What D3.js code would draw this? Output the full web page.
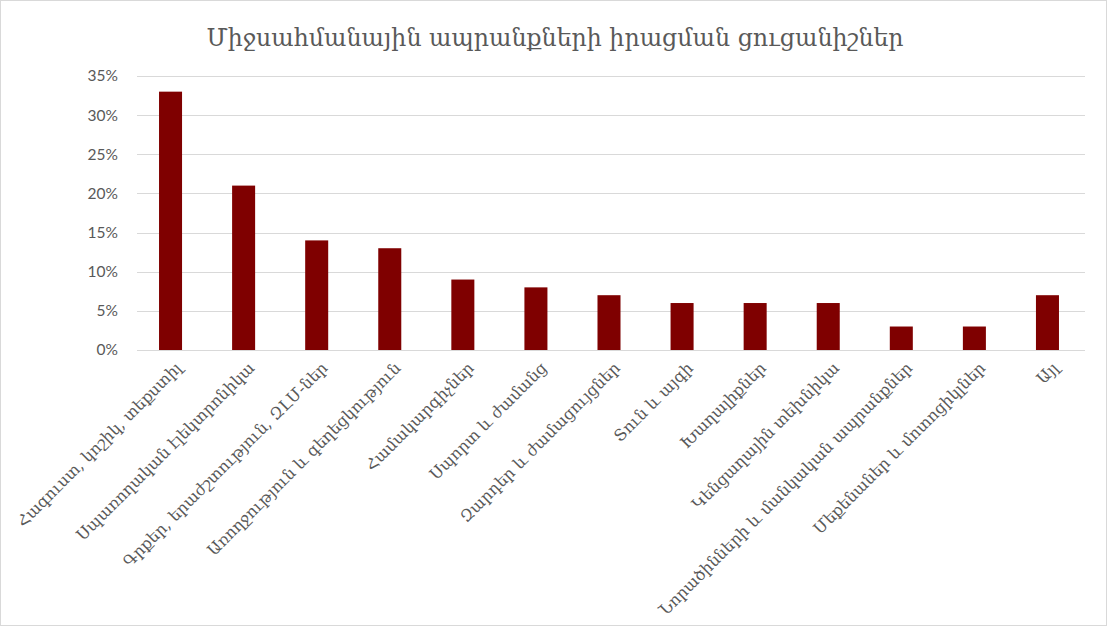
<!DOCTYPE html>
<html>
<head>
<meta charset="utf-8">
<script src="https://cdn.jsdelivr.net/npm/d3@7"></script>
<style>
  html, body { margin: 0; padding: 0; background: #ffffff; }
  svg { display: block; }
</style>
</head>
<body>
<svg id="chart" width="1108" height="629"></svg>
<script>
const title = "Միջսահմանային ապրանքների իրացման ցուցանիշներ";
const categories = [
  "Հագուստ, կոշիկ, տեքստիլ",
  "Սպառողական էլեկտրոնիկա",
  "Գրքեր, երաժշտություն, ԶԼՄ-ներ",
  "Առողջություն և գեղեցկություն",
  "Համակարգիչներ",
  "Սպորտ և ժամանց",
  "Զարդեր և ժամացույցներ",
  "Տուն և այգի",
  "Խաղալիքներ",
  "Կենցաղային տեխնիկա",
  "Նորածինների և մանկական ապրանքներ",
  "Մեքենաներ և մոտոցիկլներ",
  "Այլ"
];
const values = [0.33, 0.21, 0.14, 0.13, 0.09, 0.08, 0.07, 0.06, 0.06, 0.06, 0.03, 0.03, 0.07];
const yTicks = [0, 0.05, 0.10, 0.15, 0.20, 0.25, 0.30, 0.35];

const svg = d3.select("#chart");
const W = 1108, H = 629;

// frame
svg.append("rect").attr("x", 0).attr("y", 0).attr("width", W).attr("height", H).attr("fill", "#ffffff");
svg.append("rect").attr("x", 0.5).attr("y", 0.5).attr("width", W - 2).attr("height", H - 4)
  .attr("fill", "none").attr("stroke", "#d9d9d9");

const plot = { left: 134, right: 1084, top: 76, bottom: 350 };

const x = d3.scaleBand().domain(categories).range([plot.left, plot.right]).paddingInner(0.685).paddingOuter(0.3425);
const y = d3.scaleLinear().domain([0, 0.35]).range([plot.bottom, plot.top]);

// gridlines
svg.append("g").selectAll("line").data(yTicks).join("line")
  .attr("x1", 137).attr("x2", 1085)
  .attr("y1", d => Math.round(y(d)) + 0.5).attr("y2", d => Math.round(y(d)) + 0.5)
  .attr("stroke", "#d9d9d9").attr("stroke-width", 1);

// y axis labels
const yAxis = d3.axisLeft(y).tickValues(yTicks).tickFormat(d3.format(".0%")).tickSize(0).tickPadding(0);
const yg = svg.append("g").attr("transform", "translate(118,0)").call(yAxis);
yg.select(".domain").remove();
yg.selectAll("text").attr("font-family", "Lato, 'Open Sans', sans-serif").attr("font-size", 15.5)
  .attr("fill", "#595959");

// bars
svg.append("g").selectAll("rect").data(values).join("rect")
  .attr("x", (d, i) => x(categories[i]))
  .attr("y", d => y(d))
  .attr("width", x.bandwidth())
  .attr("height", d => y(0) - y(d))
  .attr("fill", "#7f0000");

// category labels
svg.append("g").selectAll("text").data(categories).join("text")
  .attr("transform", d => `translate(${x(d) + x.bandwidth() / 2 + 8},${365}) rotate(-45)`)
  .attr("text-anchor", "end")
  .attr("dy", "0.35em")
  .attr("font-family", "'DejaVu Serif', serif")
  .attr("font-size", 16)
  .attr("fill", "#595959")
  .text(d => d);

// title
svg.append("text").attr("x", 555).attr("y", 46).attr("text-anchor", "middle")
  .attr("font-family", "'DejaVu Serif', serif").attr("font-size", 23.7)
  .attr("fill", "#595959").text(title);
</script>
</body>
</html>
